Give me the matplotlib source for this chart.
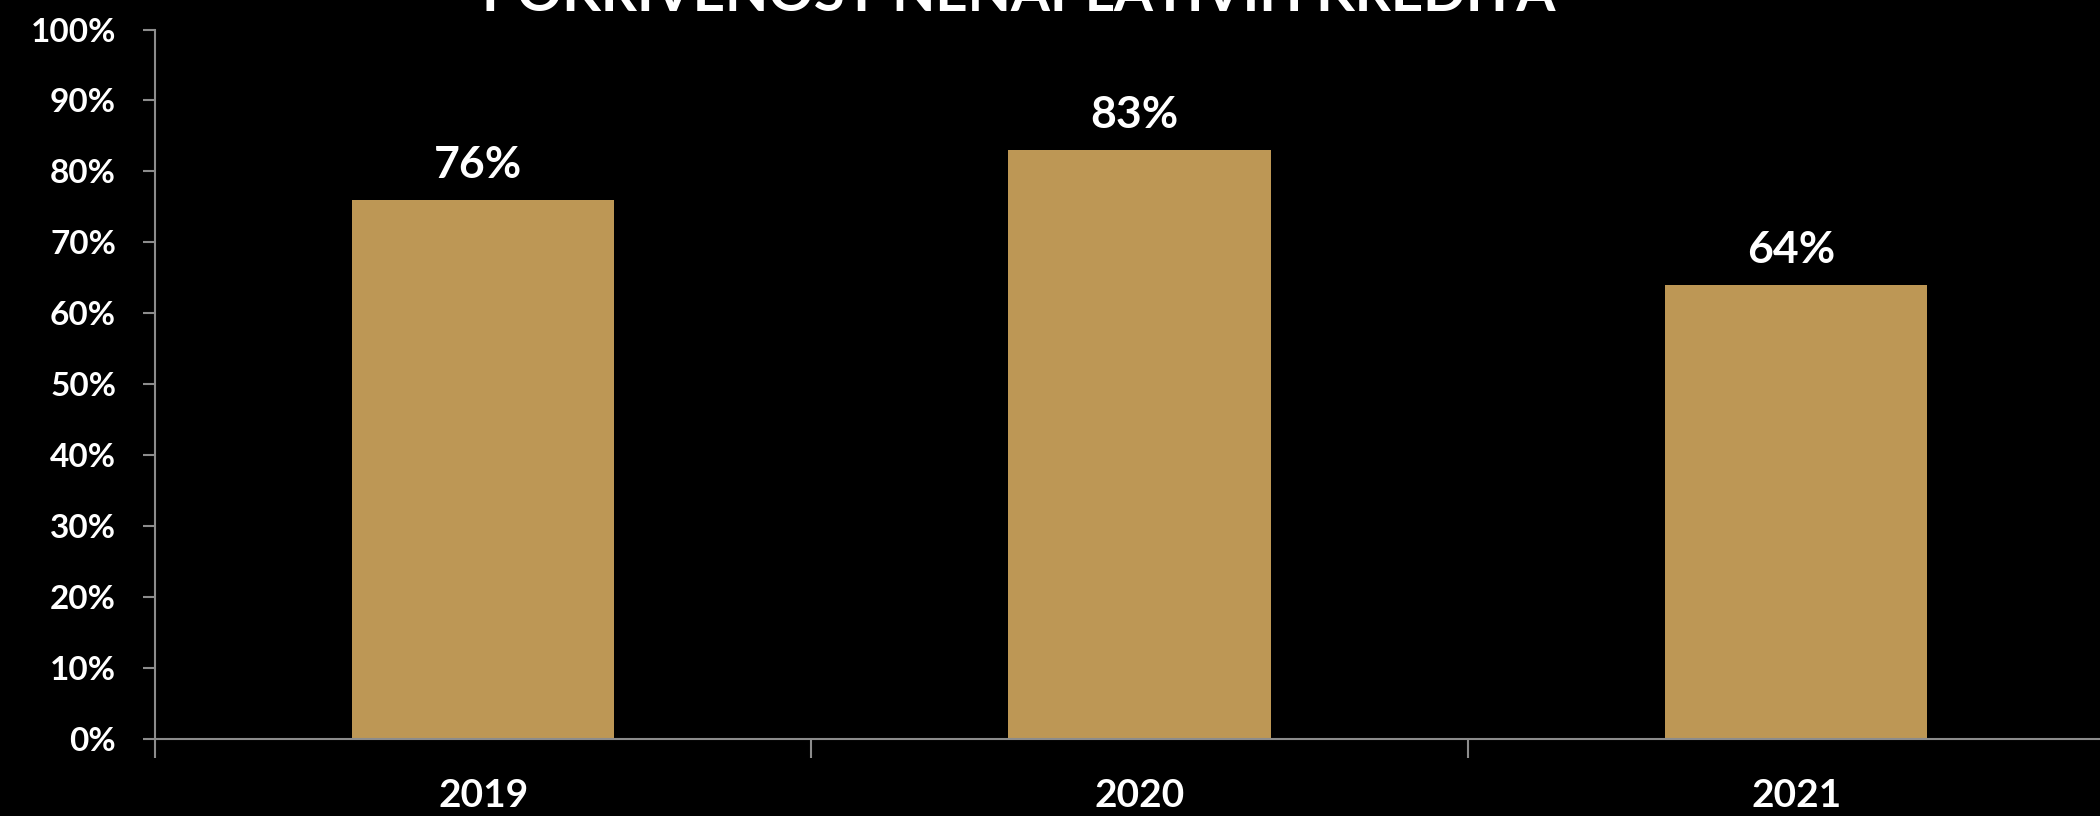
import matplotlib
matplotlib.use('Agg')
import matplotlib.pyplot as plt
from matplotlib.ticker import PercentFormatter

years = ['2019', '2020', '2021']
coverage = [76, 83, 64]
yticks = list(range(0, 101, 10))

BAR_COLOR = '#BD9755'
AXIS_COLOR = '#8C8C8C'
FONT = ['Lato', 'DejaVu Sans']

fig = plt.figure(figsize=(21, 8.16), dpi=100, facecolor='black')
ax = fig.add_axes([0.0738, 0.0944, 1 - 0.0738, 0.9638 - 0.0944])
ax.set_facecolor('black')

x = range(len(years))
bars = ax.bar(x, coverage, width=0.4, color=BAR_COLOR, zorder=2)
for xi, v in zip(x, coverage):
    ax.text(xi - 0.008, v + 3.1, f'{v}%', ha='center', va='baseline', color='white',
            fontsize=32, fontweight='bold', family=FONT)

ax.set_yticks(yticks)
ax.yaxis.set_major_formatter(PercentFormatter(decimals=0))
ax.set_xticks(x)
ax.set_xticklabels(years)
ax.set_xticks([-0.5, 0.5, 1.5], minor=True)
ax.set_xlim(-0.5, 2.463)
ax.set_ylim(0, 100)
ax.tick_params(axis='x', which='major', length=0, pad=28, colors='white', labelsize=28)
ax.tick_params(axis='x', which='minor', length=14, width=1.5, color=AXIS_COLOR)
ax.tick_params(axis='y', length=9, width=1.5, color=AXIS_COLOR, colors='white', labelsize=24, pad=19)
for lab in ax.get_xticklabels() + ax.get_yticklabels():
    lab.set_fontweight('bold')
    lab.set_family(FONT)
for side in ['top', 'right']:
    ax.spines[side].set_visible(False)
for side in ['left', 'bottom']:
    ax.spines[side].set_color(AXIS_COLOR)
    ax.spines[side].set_linewidth(1.5)

# title sits mostly above the top edge, as in the source slide
fig.text(0.485, 0.987, 'POKRIVENOST NENAPLATIVIH KREDITA', ha='center', va='baseline',
         color='white', fontsize=40.5, fontweight='bold', family=FONT)

fig.savefig('out.png', dpi=100, facecolor='black')
